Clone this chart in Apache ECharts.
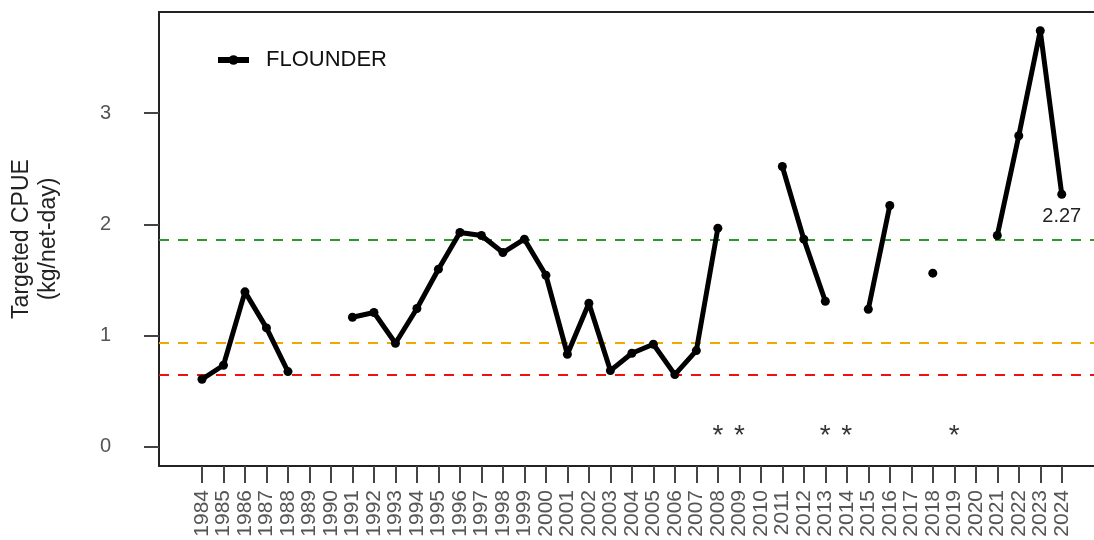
<!DOCTYPE html>
<html>
<head>
<meta charset="utf-8">
<script src="https://cdn.jsdelivr.net/npm/echarts@6/dist/echarts.min.js"></script>
<style>
  html, body { margin: 0; padding: 0; background: #fff; }
  #chart { width: 1094px; height: 540px; }
</style>
</head>
<body>
<div id="chart"></div>
<script>
const years = [];
for (let y = 1984; y <= 2024; y++) years.push(y);

// targeted CPUE (kg/net-day), null = no estimate
const cpue = [
  0.606, 0.732, 1.392, 1.068, 0.675, null, null, 1.164, 1.206, 0.930,
  1.242, 1.596, 1.926, 1.899, 1.746, 1.866, 1.542, 0.831, 1.290, 0.684,
  0.840, 0.921, 0.648, 0.864, 1.965, null, null, 2.520, 1.866, 1.308,
  null, 1.236, 2.169, null, 1.560, null, null, 1.899, 2.796, 3.740,
  2.27
];

// years flagged with an asterisk
const starYears = [2008, 2009, 2013, 2014, 2019];
const starLevel = 0.15;

// reference levels
const refUpper = 1.86;
const refMid = 0.93;
const refLower = 0.65;

const yTicks = [0, 1, 2, 3];

const chart = echarts.init(document.getElementById('chart'));

const lineData = years.map((y, i) => {
  const item = { value: [y, cpue[i]] };
  if (i === years.length - 1) {
    item.label = {
      show: true,
      position: 'bottom',
      distance: 8,
      formatter: () => cpue[i].toFixed(2),
      fontSize: 20,
      color: '#222',
      fontFamily: 'Liberation Sans'
    };
  }
  return item;
});

const option = {
  animation: false,
  textStyle: { fontFamily: 'Liberation Sans' },
  grid: { left: 159, right: 0, top: 12, bottom: 74, outerBoundsMode: 'none', containLabel: false },
  legend: {
    left: 210,
    top: 44,
    itemWidth: 31,
    itemHeight: 12,
    lineStyle: { width: 6 },
    textStyle: { fontSize: 22, color: '#111', padding: [0, 0, 0, 12] },
    data: ['FLOUNDER']
  },
  xAxis: [
    {
      type: 'value',
      min: 1982,
      max: 2025.5,
      axisLine: { show: true, onZero: false, lineStyle: { color: '#222', width: 2 } },
      axisTick: {
        show: true,
        customValues: years,
        length: 17,
        lineStyle: { color: '#444', width: 2 }
      },
      axisLabel: {
        customValues: years,
        rotate: 90,
        fontSize: 21,
        color: '#555',
        margin: 24,
        formatter: v => String(v)
      },
      splitLine: { show: false }
    },
    {
      type: 'value',
      position: 'top',
      min: 1982,
      max: 2025.5,
      axisLine: { show: true, onZero: false, lineStyle: { color: '#222', width: 2 } },
      axisTick: { show: false },
      axisLabel: { show: false },
      splitLine: { show: false }
    }
  ],
  yAxis: {
    type: 'value',
    min: -0.174,
    max: 3.909,
    name: 'Targeted CPUE\n(kg/net-day)',
    nameLocation: 'middle',
    nameRotate: 90,
    nameGap: 97,
    nameTextStyle: { fontSize: 23, color: '#222', lineHeight: 27 },
    axisLine: { show: true, onZero: false, lineStyle: { color: '#222', width: 2 } },
    axisTick: {
      show: true,
      customValues: yTicks,
      length: 15,
      lineStyle: { color: '#444', width: 2 }
    },
    axisLabel: {
      customValues: yTicks,
      fontSize: 20,
      color: '#555',
      margin: 48
    },
    splitLine: { show: false }
  },
  series: [
    {
      name: 'FLOUNDER',
      type: 'line',
      data: lineData,
      connectNulls: false,
      symbol: 'circle',
      symbolSize: 9,
      showSymbol: true,
      showAllSymbol: true,
      lineStyle: { color: '#000', width: 5 },
      itemStyle: { color: '#000' },
      z: 5,
      markLine: {
        silent: true,
        symbol: 'none',
        label: { show: false },
        data: [
          { yAxis: refUpper, lineStyle: { color: '#2a9a2a', type: [10, 9], width: 2 } },
          { yAxis: refMid, lineStyle: { color: '#f0a800', type: [10, 9], width: 2 } },
          { yAxis: refLower, lineStyle: { color: '#ee1111', type: [10, 9], width: 2 } }
        ]
      }
    },
    {
      name: 'flag',
      type: 'scatter',
      data: starYears.map(y => [y, starLevel]),
      symbolSize: 1,
      itemStyle: { color: 'rgba(0,0,0,0)' },
      label: {
        show: true,
        position: 'inside',
        formatter: '*',
        fontSize: 28,
        color: '#000',
        offset: [0, 6]
      }
    }
  ]
};

chart.setOption(option);
</script>
</body>
</html>
